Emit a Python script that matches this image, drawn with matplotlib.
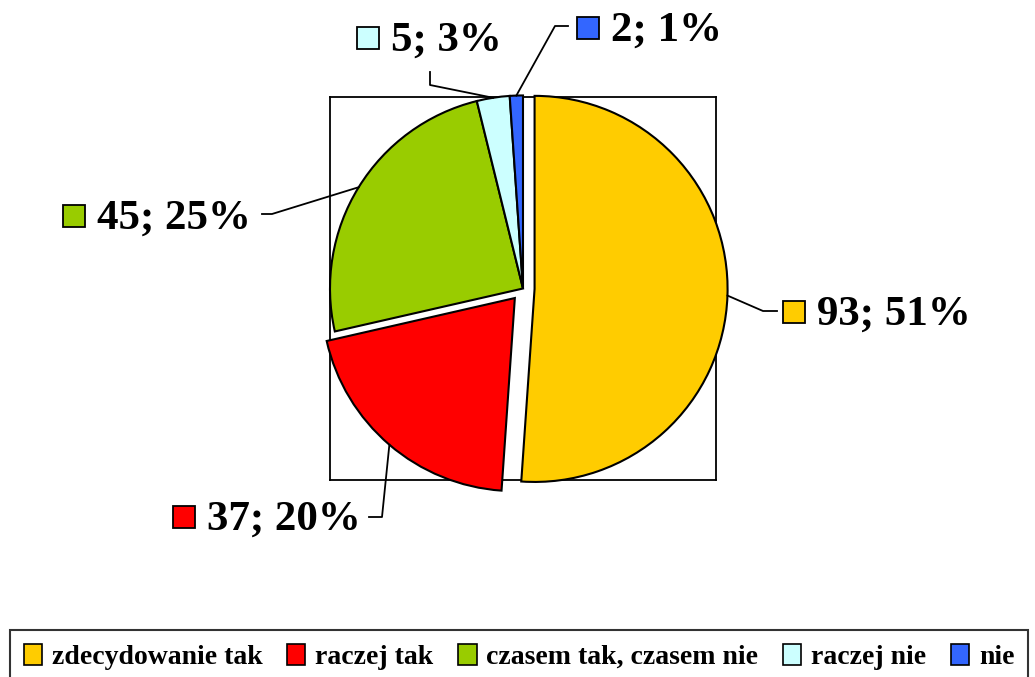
import numpy as np
import matplotlib.pyplot as plt
from matplotlib.patches import Patch, Rectangle
from matplotlib.lines import Line2D

plt.rcParams['font.family'] = ['Liberation Serif', 'DejaVu Serif']
plt.rcParams['font.weight'] = 'bold'

categories = ['zdecydowanie tak', 'raczej tak', 'czasem tak, czasem nie', 'raczej nie', 'nie']
counts = [93, 37, 45, 5, 2]
percents = [51, 20, 25, 3, 1]
colors = ['#FFCC00', '#FF0000', '#99CC00', '#CCFFFF', '#3366FF']
explode = [0.06, 0.065, 0.0, 0.0, 0.0]

W, H = 1035, 677
fig = plt.figure(figsize=(W / 100, H / 100), dpi=100)

def fx(x):
    return x / W

def fy(y):
    return 1 - y / H

# plot area box
ax = fig.add_axes([fx(330), fy(480), 386 / W, 383 / H])
wedges, _ = ax.pie(counts, colors=colors, explode=explode, startangle=90,
                   counterclock=False,
                   wedgeprops=dict(edgecolor='black', linewidth=1.5))
for w in wedges:
    w.set_clip_on(False)
    w.set_zorder(3)
ax.set_aspect('auto')
ax.set_xlim(-1.0, 1.0)
ax.set_ylim(-0.992, 0.992)
ax.set_xticks([])
ax.set_yticks([])
ax.set_frame_on(True)
for s in ax.spines.values():
    s.set_linewidth(1.3)
    s.set_color('black')
    s.set_zorder(1)

# label layout: (square left x, center y, elbow point, line end point) in pixels
label_layout = [
    (783, 312, (763, 311), (777, 311)),
    (173, 517, (382, 517), (369, 517)),
    (63, 216, (272, 214), (262, 214)),
    (357, 38, (430, 85), (430, 72)),
    (577, 28, (555, 26), (568, 26)),
]

to_fig = fig.transFigure.inverted()
sq = 22
for w, n, p, col, (sx, cy, elbow, end) in zip(wedges, counts, percents, colors, label_layout):
    mid = np.deg2rad((w.theta1 + w.theta2) / 2)
    cx, cyw = w.center
    px, py = cx + w.r * np.cos(mid), cyw + w.r * np.sin(mid)
    fpx, fpy = to_fig.transform(ax.transData.transform((px, py)))
    fig.add_artist(Line2D([fpx, fx(elbow[0]), fx(end[0])],
                          [fpy, fy(elbow[1]), fy(end[1])],
                          color='black', linewidth=1.3))
    fig.add_artist(Rectangle((fx(sx), fy(cy + sq / 2)), sq / W, sq / H,
                             facecolor=col, edgecolor='black', linewidth=1.3))
    fig.text(fx(sx + sq + 12), fy(cy + 3), f'{n}; {p}%', fontsize=31,
             fontweight='bold', va='center', ha='left')

handles = [Patch(facecolor=c, edgecolor='black', linewidth=1.2) for c in colors]
leg = fig.legend(handles, categories, loc='upper left', ncol=5,
                 bbox_to_anchor=(fx(10), fy(630)), frameon=True, fancybox=False,
                 fontsize=20, handlelength=0.65, handleheight=0.8,
                 handletextpad=0.35, columnspacing=0.9, borderpad=0.5,
                 borderaxespad=0)
leg.get_frame().set_edgecolor('black')
leg.get_frame().set_linewidth(1.5)
leg.get_frame().set_boxstyle('square', pad=0)
for t in leg.get_texts():
    t.set_fontweight('bold')

fig.savefig('out.png', dpi=100)
